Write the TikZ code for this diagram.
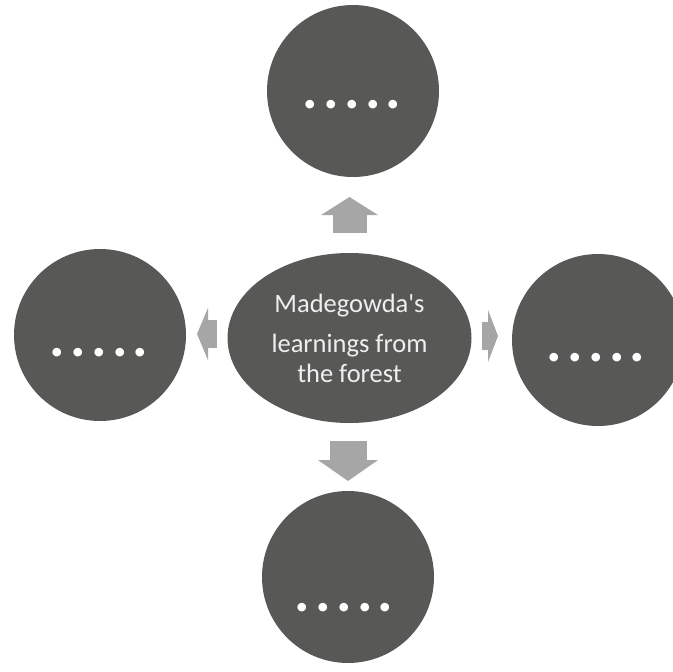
\documentclass[tikz,border=0pt]{standalone}
\usepackage{fontspec}
\setmainfont{Carlito}
\usetikzlibrary{shapes.geometric,arrows.meta}
\definecolor{discgray}{HTML}{585856}
\definecolor{arrowgray}{HTML}{A6A6A6}
\definecolor{textlight}{HTML}{EFEFEF}
\newcommand\dotrow{{\fontsize{58}{58}\selectfont\bfseries .\kern5.3pt.\kern5.3pt.\kern5.3pt.\kern5.3pt.}}
\begin{document}
\begin{tikzpicture}[x=1pt,y=-1pt,
  disc/.style={circle, fill=discgray, minimum size=172pt, inner sep=0pt},
  hubshape/.style={ellipse, fill=discgray, minimum width=244pt, minimum height=170pt, inner sep=0pt,
    text=textlight, align=center, font=\fontsize{26.5}{30}\selectfont},
  dotlabel/.style={text=white, inner sep=0pt, anchor=center},
  blockarrow/.style={draw=arrowgray, line width=#1, line cap=butt}
]
\useasboundingbox (0,0) rectangle (673,672);

% circles
\node[disc] (top) at (353,91) {};
\node[disc] (left) at (100,335) {};
\node[disc] (right) at (598,340) {};
\node[disc] (bottom) at (348,577) {};

% central ellipse
\node[hubshape] (hub) at (349.5,338) {Madegowda\textquotesingle s\\[10pt]learnings from\\the forest};

% placeholder dots
\node[dotlabel] at (352,105) {\dotrow};
\node[dotlabel] at (99,353) {\dotrow};
\node[dotlabel] at (596,358) {\dotrow};
\node[dotlabel] at (344,608) {\dotrow};

% arrow end points
\coordinate (upTail) at (349.5,233);
\coordinate (upTip) at (349.5,197);
\coordinate (downTail) at (348,441);
\coordinate (downTip) at (348,481);
\coordinate (leftTail) at (217,334);
\coordinate (leftTip) at (197,334);
\coordinate (rightTail) at (482,336);
\coordinate (rightTip) at (498,336);

\draw[blockarrow=34pt, -{Triangle[length=18pt,width=56pt]}, arrowgray] (upTail) -- (upTip);
\draw[blockarrow=37pt, -{Triangle[length=21pt,width=59pt]}, arrowgray] (downTail) -- (downTip);
\draw[blockarrow=28pt, -{Triangle[length=11pt,width=52pt]}, arrowgray] (leftTail) -- (leftTip);
\draw[blockarrow=28pt, -{Triangle[length=10pt,width=52pt]}, arrowgray] (rightTail) -- (rightTip);
\end{tikzpicture}
\end{document}
